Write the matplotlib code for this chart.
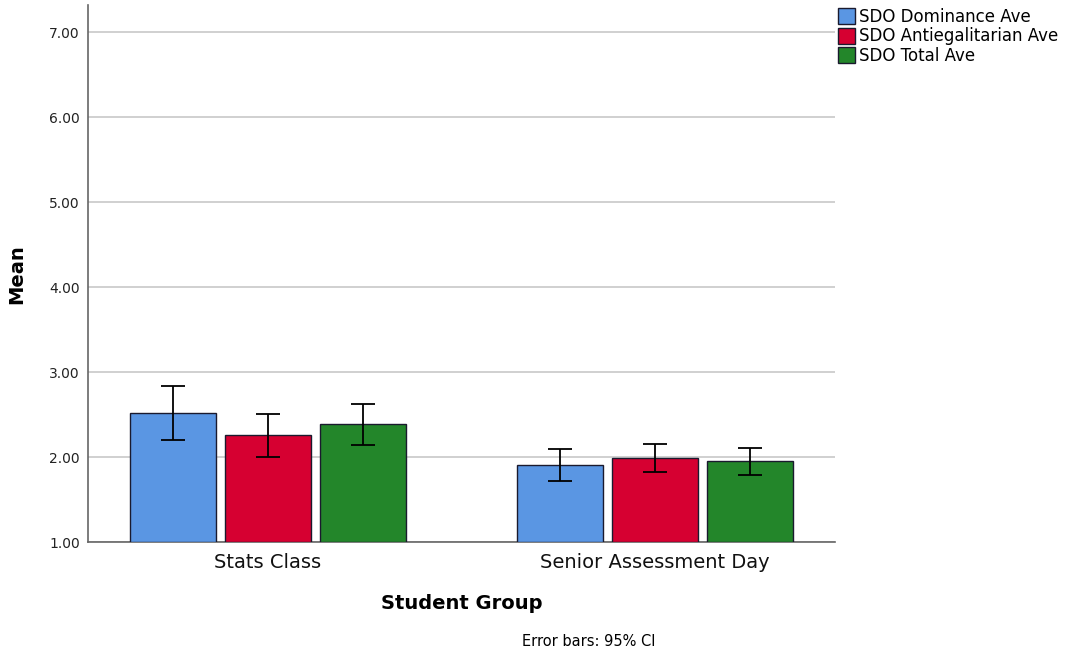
import numpy as np
import matplotlib
matplotlib.use("Agg")
import matplotlib.pyplot as plt
from matplotlib.patches import Patch

groups = ["Stats Class", "Senior Assessment Day"]
series = ["SDO Dominance Ave", "SDO Antiegalitarian Ave", "SDO Total Ave"]
means = {
    "SDO Dominance Ave": [2.52, 1.91],
    "SDO Antiegalitarian Ave": [2.26, 1.99],
    "SDO Total Ave": [2.39, 1.95],
}
ci_low = {
    "SDO Dominance Ave": [2.20, 1.72],
    "SDO Antiegalitarian Ave": [2.00, 1.82],
    "SDO Total Ave": [2.14, 1.79],
}
ci_high = {
    "SDO Dominance Ave": [2.84, 2.09],
    "SDO Antiegalitarian Ave": [2.51, 2.16],
    "SDO Total Ave": [2.63, 2.11],
}
colors = ["#5A96E3", "#D60031", "#23862A"]

fig = plt.figure(figsize=(10.66, 6.59), dpi=100)
ax = fig.add_axes([0.0826, 0.1775, 0.7005, 0.8145])

x = np.arange(len(groups))
width = 0.222
step = 0.245
for i, (name, c) in enumerate(zip(series, colors)):
    pos = x + (i - 1) * step
    m = np.array(means[name])
    lo = m - np.array(ci_low[name])
    hi = np.array(ci_high[name]) - m
    ax.bar(pos, m - 1.0, width, bottom=1.0, color=c, edgecolor="#1a1a2e",
           linewidth=1.0, zorder=3)
    ax.errorbar(pos, m, yerr=[lo, hi], fmt="none", ecolor="black",
                elinewidth=1.3, capsize=8.5, capthick=1.3, zorder=4)

ax.set_ylim(1.0, 7.32)
ax.set_xlim(-0.465, 1.465)
ax.set_yticks([1, 2, 3, 4, 5, 6, 7])
ax.set_yticklabels([f"{v:.2f}" for v in [1, 2, 3, 4, 5, 6, 7]], fontsize=10, color="#222222")
ax.set_xticks(x)
ax.set_xticklabels(groups, fontsize=14, color="#111111")
ax.tick_params(axis="x", length=0, pad=8)
ax.tick_params(axis="y", length=0, pad=6)
ax.yaxis.grid(True, color="#c8c8c8", linewidth=1.2, zorder=0)
ax.set_axisbelow(True)
for s in ["top", "right"]:
    ax.spines[s].set_visible(False)
for s in ["left", "bottom"]:
    ax.spines[s].set_color("#666666")
    ax.spines[s].set_linewidth(1.2)

ax.set_ylabel("Mean", fontsize=14, fontweight="bold", labelpad=16)
ax.set_xlabel("Student Group", fontsize=14, fontweight="bold", labelpad=16)
fig.text(0.552, 0.027, "Error bars: 95% CI", fontsize=10.5, ha="center", va="center")

handles = [Patch(facecolor=c, edgecolor="#1a1a2e", label=n) for n, c in zip(series, colors)]
fig.legend(handles=handles, loc="upper left", bbox_to_anchor=(0.780, 0.998),
           frameon=False, fontsize=12, handlelength=1.0, handleheight=1.1,
           handletextpad=0.25, labelspacing=0.08, borderaxespad=0)

fig.savefig("out.png", dpi=100)
